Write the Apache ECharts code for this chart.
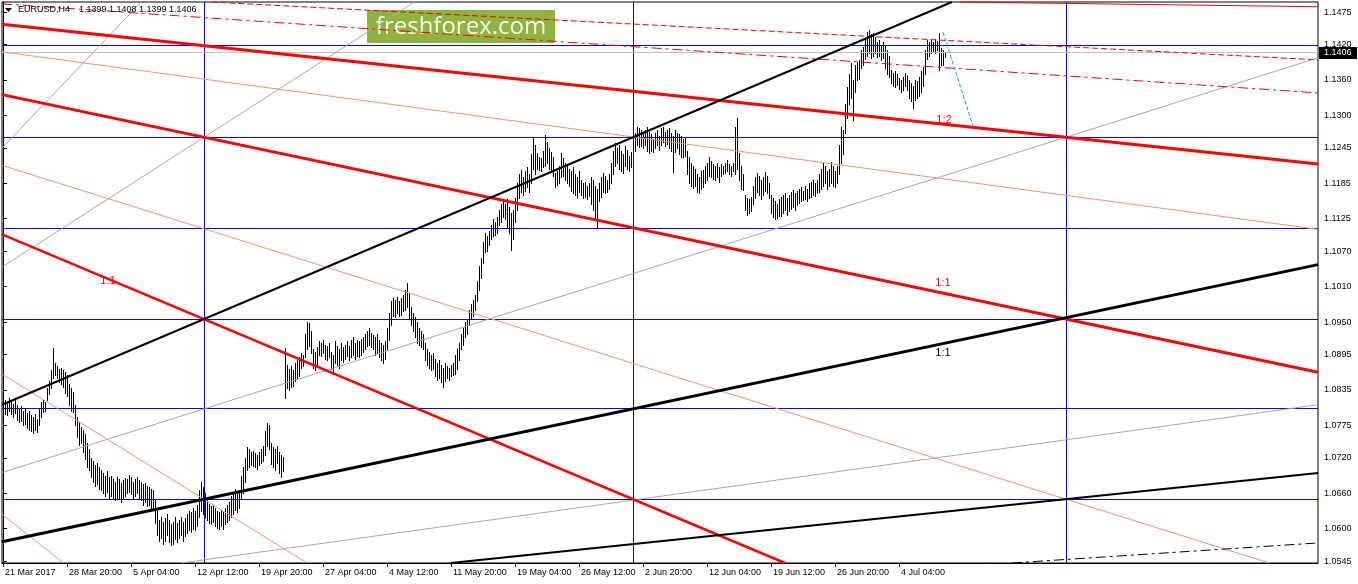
<!DOCTYPE html>
<html><head><meta charset="utf-8">
<script src="https://cdn.jsdelivr.net/npm/echarts@6/dist/echarts.min.js"></script>
<style>html,body{margin:0;padding:0;background:#fff;}#c{width:1358px;height:584px;}</style>
</head><body><div id="c"></div>
<script>
// ---------- DATA ----------
const symbolName = 'EURUSD,H4';
const lastOHLC = [1.1399, 1.1408, 1.1399, 1.1406];
const bidPrice = 1.1406;
const timeLabelBars = [0,32,64,96,128,160,192,224,256,288,320,352,384,416,448];
const timeLabels = ['21 Mar 2017','28 Mar 20:00','5 Apr 04:00','12 Apr 12:00','19 Apr 20:00','27 Apr 04:00','4 May 12:00','11 May 20:00','19 May 04:00','26 May 12:00','2 Jun 20:00','12 Jun 04:00','19 Jun 12:00','26 Jun 20:00','4 Jul 04:00'];
const priceLabels = [1.1475,1.1420,1.1360,1.1300,1.1245,1.1185,1.1125,1.1070,1.1010,1.0950,1.0895,1.0835,1.0775,1.0720,1.0660,1.0600,1.0545];

const barHighs = [
1.0820,1.0818,1.0816,1.0821,1.0815,1.0812,1.0818,
1.0810,1.0805,1.0808,1.0800,1.0803,1.0796,1.0799,1.0792,1.0790,1.0794,1.0786,
1.0805,1.0815,1.0818,1.0814,
1.0838,1.0850,1.0868,1.0906,1.0880,
1.0875,1.0870,1.0872,1.0868,1.0865,1.0860,
1.0845,1.0838,1.0832,
1.0810,1.0790,1.0780,
1.0772,1.0768,1.0760,1.0745,1.0735,
1.0720,1.0715,1.0708,1.0712,1.0705,
1.0700,1.0695,1.0690,1.0698,1.0688,
1.0690,1.0685,1.0680,1.0688,1.0684,1.0678,1.0682,1.0686,
1.0685,1.0691,1.0688,1.0680,1.0684,1.0688,1.0682,
1.0680,1.0675,1.0678,1.0672,1.0670,1.0668,1.0665,
1.0650,1.0630,1.0615,
1.0620,1.0612,1.0618,1.0625,1.0615,1.0608,1.0612,1.0620,
1.0610,1.0615,1.0620,1.0612,1.0618,1.0625,1.0630,
1.0628,1.0635,1.0630,1.0640,
1.0665,1.0680,1.0670,1.0660,
1.0648,1.0642,1.0638,1.0640,1.0635,1.0630,1.0628,
1.0632,1.0628,1.0635,1.0640,1.0645,
1.0655,1.0662,1.0668,1.0660,1.0665,
1.0690,1.0705,1.0720,
1.0738,1.0735,1.0730,1.0732,
1.0728,1.0725,1.0730,1.0735,1.0740,
1.0765,1.0779,1.0775,
1.0745,1.0738,1.0735,1.0740,1.0730,1.0725,
1.0722,1.0906,
1.0878,1.0870,1.0875,1.0868,1.0880,1.0885,1.0890,
1.0898,1.0895,
1.0930,1.0950,1.0948,1.0935,
1.0905,1.0900,1.0908,
1.0918,1.0915,1.0920,
1.0912,1.0910,1.0915,
1.0900,1.0895,1.0918,1.0910,1.0905,
1.0915,1.0908,1.0912,1.0918,1.0910,
1.0920,1.0924,1.0915,1.0920,1.0918,1.0922,1.0925,
1.0930,1.0935,1.0940,1.0932,1.0928,
1.0925,1.0930,1.0920,1.0915,1.0912,1.0918,
1.0940,1.0965,1.0985,
1.0990,1.0988,1.0992,1.0985,1.0990,1.0995,
1.1005,1.1017,1.1000,
1.0975,1.0965,1.0958,1.0950,
1.0940,1.0935,1.0930,
1.0915,1.0905,1.0900,1.0895,1.0898,
1.0888,1.0880,1.0885,1.0878,1.0872,1.0880,
1.0875,1.0872,1.0878,1.0880,
1.0895,1.0905,1.0915,
1.0930,1.0940,1.0950,1.0955,
1.0970,1.0980,1.0988,1.0995,
1.1020,1.1045,1.1058,
1.1085,1.1100,1.1095,
1.1105,1.1115,1.1125,1.1120,1.1128,
1.1140,1.1150,1.1156,1.1150,
1.1158,1.1145,1.1135,1.1140,
1.1160,1.1185,1.1200,1.1207,1.1195,
1.1205,1.1212,1.1200,
1.1235,1.1263,1.1250,
1.1236,1.1230,1.1228,1.1240,
1.1267,1.1255,1.1245,1.1238,1.1230,
1.1202,1.1205,
1.1215,1.1236,1.1228,1.1220,1.1215,1.1210,
1.1205,1.1212,1.1200,1.1195,1.1205,
1.1190,1.1185,1.1188,1.1180,1.1185,
1.1195,1.1190,1.1180,1.1175,
1.1185,1.1195,1.1202,
1.1198,1.1190,1.1200,
1.1220,1.1240,1.1253,1.1245,
1.1250,1.1240,1.1235,1.1248,
1.1241,1.1232,1.1238,
1.1255,1.1270,1.1280,1.1278,1.1275,1.1268,
1.1275,1.1280,1.1272,1.1268,1.1260,
1.1270,1.1275,1.1265,
1.1278,1.1280,1.1272,1.1276,
1.1278,1.1270,1.1265,1.1275,1.1270,
1.1268,1.1265,1.1260,1.1262,
1.1240,1.1229,1.1220,1.1215,1.1210,
1.1200,1.1195,1.1205,1.1207,
1.1215,1.1220,1.1229,1.1222,1.1218,
1.1215,1.1220,1.1212,
1.1218,1.1215,1.1220,1.1224,1.1218,1.1215,1.1220,
1.1280,1.1295,
1.1236,1.1215,1.1200,
1.1165,1.1160,1.1158,1.1162,
1.1180,1.1195,1.1202,1.1198,1.1190,
1.1195,1.1204,1.1198,1.1185,
1.1165,1.1160,1.1155,1.1150,1.1158,
1.1162,1.1165,1.1168,1.1160,1.1165,
1.1170,1.1173,1.1168,1.1172,
1.1175,1.1178,1.1172,1.1180,1.1176,
1.1185,1.1188,1.1190,1.1185,1.1190,
1.1200,1.1210,1.1219,1.1215,1.1205,
1.1210,1.1221,1.1215,1.1205,1.1215,
1.1250,1.1280,1.1275,
1.1320,1.1348,
1.1370,1.1389,1.1360,1.1385,
1.1390,1.1394,
1.1410,1.1416,
1.1430,1.1441,1.1445,1.1438,
1.1439,1.1432,1.1425,
1.1428,1.1420,1.1425,
1.1420,1.1410,1.1400,
1.1377,1.1372,1.1375,1.1370,
1.1363,1.1360,1.1365,
1.1372,1.1368,
1.1360,1.1355,1.1350,
1.1360,1.1358,
1.1365,1.1375,1.1382,
1.1410,1.1428,1.1425,
1.1428,1.1425,1.1430,1.1426,1.1439,
1.1414,1.1410,1.1408
];
const barLows = [
1.0798,1.0795,1.0792,1.0800,1.0794,1.0790,1.0796,
1.0785,1.0780,1.0782,1.0775,1.0778,1.0770,1.0768,1.0765,1.0762,1.0768,1.0764,
1.0775,1.0790,1.0798,1.0800,
1.0818,1.0828,1.0838,1.0855,1.0860,
1.0855,1.0848,1.0845,1.0840,1.0830,1.0825,
1.0810,1.0800,1.0798,
1.0775,1.0755,1.0742,
1.0745,1.0730,1.0718,1.0704,1.0700,
1.0688,1.0680,1.0672,1.0675,1.0668,
1.0665,1.0660,1.0655,1.0662,1.0652,
1.0655,1.0650,1.0648,1.0652,1.0650,1.0645,1.0650,1.0655,
1.0660,1.0662,1.0658,1.0652,1.0655,1.0660,1.0650,
1.0648,1.0640,1.0645,1.0638,1.0640,1.0635,1.0632,
1.0610,1.0590,1.0580,
1.0585,1.0575,1.0580,1.0590,1.0578,1.0572,1.0575,1.0582,
1.0578,1.0585,1.0590,1.0580,1.0588,1.0592,1.0598,
1.0595,1.0600,1.0598,1.0605,
1.0620,1.0630,1.0625,1.0620,
1.0615,1.0610,1.0608,1.0612,1.0605,1.0602,1.0600,
1.0605,1.0600,1.0608,1.0612,1.0615,
1.0620,1.0625,1.0632,1.0628,1.0635,
1.0650,1.0660,1.0680,
1.0700,1.0705,1.0708,1.0706,
1.0705,1.0702,1.0708,1.0712,1.0715,
1.0725,1.0740,1.0735,
1.0710,1.0705,1.0700,1.0712,1.0695,1.0688,
1.0698,1.0821,
1.0838,1.0835,1.0840,1.0842,1.0850,1.0855,1.0858,
1.0872,1.0875,
1.0890,1.0905,1.0910,1.0898,
1.0872,1.0868,1.0878,
1.0895,1.0892,1.0898,
1.0888,1.0885,1.0890,
1.0870,1.0865,1.0880,1.0878,1.0872,
1.0885,1.0882,1.0888,1.0892,1.0885,
1.0890,1.0895,1.0888,1.0893,1.0890,1.0895,1.0900,
1.0905,1.0910,1.0912,1.0908,1.0905,
1.0895,1.0898,1.0890,1.0885,1.0880,1.0888,
1.0905,1.0920,1.0945,
1.0960,1.0958,1.0965,1.0960,1.0962,1.0968,
1.0970,1.0975,1.0955,
1.0945,1.0935,1.0925,1.0915,
1.0912,1.0908,1.0905,
1.0885,1.0878,1.0872,1.0868,1.0870,
1.0858,1.0852,1.0855,1.0848,1.0840,1.0850,
1.0855,1.0852,1.0858,1.0860,
1.0862,1.0870,1.0885,
1.0905,1.0912,1.0925,1.0930,
1.0945,1.0955,1.0960,1.0970,
1.0985,1.1005,1.1025,
1.1050,1.1068,1.1070,
1.1080,1.1090,1.1095,1.1098,1.1100,
1.1115,1.1120,1.1128,1.1125,
1.1110,1.1100,1.1072,1.1090,
1.1120,1.1140,1.1160,1.1170,1.1165,
1.1172,1.1178,1.1170,
1.1185,1.1210,1.1200,
1.1210,1.1207,1.1205,1.1212,
1.1215,1.1220,1.1210,1.1205,1.1198,
1.1179,1.1182,
1.1185,1.1195,1.1198,1.1190,1.1185,1.1180,
1.1172,1.1168,1.1165,1.1162,1.1170,
1.1165,1.1160,1.1162,1.1158,1.1163,
1.1150,1.1140,1.1125,1.1111,
1.1155,1.1162,1.1170,
1.1168,1.1170,1.1175,
1.1185,1.1200,1.1215,1.1220,
1.1210,1.1205,1.1202,1.1215,
1.1210,1.1205,1.1212,
1.1225,1.1240,1.1250,1.1246,1.1248,1.1245,
1.1250,1.1240,1.1236,1.1240,1.1238,
1.1245,1.1250,1.1242,
1.1250,1.1255,1.1248,1.1252,
1.1245,1.1240,1.1204,1.1238,1.1245,
1.1235,1.1230,1.1229,1.1232,
1.1200,1.1185,1.1180,1.1177,1.1180,
1.1170,1.1168,1.1175,1.1178,
1.1185,1.1190,1.1198,1.1195,1.1192,
1.1190,1.1195,1.1188,
1.1198,1.1200,1.1202,1.1205,1.1200,1.1198,1.1205,
1.1200,1.1210,
1.1190,1.1175,1.1173,
1.1140,1.1131,1.1135,1.1138,
1.1150,1.1160,1.1170,1.1165,1.1158,
1.1165,1.1172,1.1168,1.1160,
1.1135,1.1128,1.1125,1.1127,1.1130,
1.1130,1.1135,1.1140,1.1132,1.1138,
1.1142,1.1145,1.1140,1.1148,
1.1152,1.1155,1.1156,1.1158,1.1155,
1.1160,1.1162,1.1165,1.1163,1.1168,
1.1170,1.1175,1.1180,1.1185,1.1175,
1.1180,1.1185,1.1180,1.1179,1.1185,
1.1200,1.1220,1.1235,
1.1270,1.1295,
1.1320,1.1330,1.1292,1.1340,
1.1360,1.1362,
1.1380,1.1385,
1.1395,1.1400,1.1405,1.1398,
1.1400,1.1405,1.1399,
1.1400,1.1394,1.1398,
1.1380,1.1370,1.1365,
1.1355,1.1350,1.1348,1.1352,
1.1345,1.1340,1.1343,
1.1350,1.1343,
1.1330,1.1325,1.1312,
1.1326,1.1330,
1.1332,1.1340,1.1350,
1.1370,1.1395,1.1400,
1.1406,1.1408,1.1405,1.1410,1.1377,
1.1385,1.1385,1.1399
];

// horizontal / vertical grid of the drawing (price levels, bar positions)
const gridLevels = [1.1418, 1.1263, 1.1108, 1.0955, 1.0803, 1.0650];
const gridBars = [100.5, 315, 531.5];

// trend line anchors: [barIndex, price]
const blackThickAnchors = [[100.5,1.0650],[315,1.0803]];
const blackUpperAnchors = [[100.5,1.0955],[315,1.1263]];
const blackLowerAnchors = [[315,1.0574],[531.5,1.0650]];
const redUpperAnchors = [[100.5,1.1418],[531.5,1.1263]];
const redMidAnchors = [[100.5,1.1263],[531.5,1.0955]];
const redLowerAnchors = [[100.5,1.0955],[315,1.0650]];
const grayMidAnchors = [[100.5,1.0803],[531.5,1.1263]];
const grayTopAnchors = [[100.5,1.1263],[315,1.1730]];
const graySteepAnchors = [[-1.5,1.1241],[70,1.1495]];
const grayLowAnchors = [[93.5,1.0544],[657.5,1.0810]];
const salmon1Anchors = [[-1.5,1.1408],[657.5,1.1107]];
const salmon2Anchors = [[100.5,1.1108],[531.5,1.0650]];
const salmon3Anchors = [[-1.5,1.0864],[100.5,1.0650]];
const salmon4Anchors = [[-1.5,1.0627],[29.5,1.0544]];
const redTopAnchors = [[478.5,1.1492],[657.5,1.1484]];
const redDash1Anchors = [[98.5,1.1493],[657.5,1.1394]];
const redDash2Anchors = [[-1.5,1.1489],[657.5,1.1338]];
const blackDashAnchors = [[513.5,1.0544],[657.5,1.0576]];
const projectionSegment = [[470,1.1441],[485,1.1282]];

const fanLabelTexts = ['1:2','1:1','1:1','1:1'];
const fanLabelPoints = [[470.5,1.1292],[470,1.1016],[470,1.0897],[52.5,1.1019]];

// ---------- CHART ----------
const xMin = -0.5, xMax = 657.5, yMin = 1.0542, yMax = 1.1492;
const FONT = 'Liberation Sans, Arial, sans-serif';
const RED = '#FF0000', BLUE = '#0000FF', SALMON = '#FA9070', GRAY = '#A8A8A8';

const styles = {
  grid: {color: BLUE, width: 1},
  bid: {color: '#C0C0C0', width: 1},
  blackThick: {color: '#000', width: 3},
  black2: {color: '#000', width: 2},
  red3: {color: RED, width: 3},
  red2: {color: RED, width: 2.5},
  red1: {color: RED, width: 1},
  gray: {color: GRAY, width: 1},
  salmon: {color: SALMON, width: 1},
  redDash1: {color: RED, width: 1, dash: [6,3]},
  redDash2: {color: RED, width: 1, dash: [10,4,3,4]},
  blackDash: {color: '#000', width: 1, dash: [10,4,3,4]},
  proj: {color: '#1E90FF', width: 1, dash: [4,2]}
};

function extend(a, b) {
  const s = (b[1]-a[1])/(b[0]-a[0]);
  return [[xMin, a[1] + s*(xMin-a[0])], [xMax, a[1] + s*(xMax-a[0])]];
}
function clipSeg(p, q) {
  let t0 = 0, t1 = 1; const dx = q[0]-p[0], dy = q[1]-p[1];
  const checks = [[-dx, p[0]-xMin],[dx, xMax-p[0]],[-dy, p[1]-yMin],[dy, yMax-p[1]]];
  for (const [pp, qq] of checks) {
    if (pp === 0) { if (qq < 0) return null; }
    else {
      const r = qq/pp;
      if (pp < 0) { if (r > t1) return null; if (r > t0) t0 = r; }
      else { if (r < t0) return null; if (r < t1) t1 = r; }
    }
  }
  return [[p[0]+t0*dx, p[1]+t0*dy], [p[0]+t1*dx, p[1]+t1*dy]];
}

const segs = [];
function add(seg, style) { const c = clipSeg(seg[0], seg[1]); if (c) segs.push({seg: c, style}); }
gridLevels.forEach(l => add([[xMin,l],[xMax,l]], 'grid'));
gridBars.forEach(b => add([[b,yMin],[b,yMax]], 'grid'));
add([[xMin,bidPrice],[xMax,bidPrice]], 'bid');
add(extend(...salmon1Anchors), 'salmon');
add(extend(...salmon2Anchors), 'salmon');
add(extend(...salmon3Anchors), 'salmon');
add(extend(...salmon4Anchors), 'salmon');
add(extend(...grayMidAnchors), 'gray');
add(extend(...grayTopAnchors), 'gray');
add(extend(...graySteepAnchors), 'gray');
add(extend(...grayLowAnchors), 'gray');
add(extend(...redDash1Anchors), 'redDash1');
add(extend(...redDash2Anchors), 'redDash2');
add(extend(...blackDashAnchors), 'blackDash');
add(extend(...redTopAnchors), 'red1');
add(extend(...redUpperAnchors), 'red3');
add(extend(...redMidAnchors), 'red3');
add(extend(...redLowerAnchors), 'red2');
add(extend(...blackThickAnchors), 'blackThick');
add(extend(...blackUpperAnchors), 'black2');
add(extend(...blackLowerAnchors), 'black2');
add(projectionSegment, 'proj');

const chart = echarts.init(document.getElementById('c'), null, {renderer: 'canvas'});

const barData = barHighs.map((h, i) => [i, h, barLows[i]]);

chart.setOption({
  animation: false,
  backgroundColor: '#fff',
  textStyle: {fontFamily: FONT},
  grid: {left: 2, right: 40, top: 2, bottom: 21, show: true, borderColor: '#000', borderWidth: 1, backgroundColor: '#fff'},
  xAxis: {
    type: 'value', min: xMin, max: xMax,
    splitLine: {show: false},
    axisLine: {show: true, lineStyle: {color: '#000', width: 1}},
    axisTick: {show: true, customValues: timeLabelBars, length: 4, inside: false, lineStyle: {color: '#000'}},
    axisLabel: {
      customValues: timeLabelBars, align: 'left', margin: 5, fontSize: 9, color: '#000', fontFamily: FONT,
      padding: [0,0,0,2],
      formatter: v => timeLabels[timeLabelBars.indexOf(Math.round(v))] || ''
    }
  },
  yAxis: {
    type: 'value', position: 'right', min: yMin, max: yMax, scale: true,
    splitLine: {show: false},
    axisLine: {show: true, lineStyle: {color: '#000', width: 1}},
    axisTick: {show: true, customValues: priceLabels, length: 4, inside: false, lineStyle: {color: '#000'}},
    axisLabel: {customValues: priceLabels, margin: 6, fontSize: 9, color: '#000', fontFamily: FONT, formatter: v => v.toFixed(4)}
  },
  graphic: [
    {type: 'polygon', shape: {points: [[5,8],[12,8],[8.5,12]]}, style: {fill: '#000'}, z: 100},
    {type: 'text', left: 18, top: 5, style: {text: symbolName, fontSize: 9, fontFamily: FONT, fill: '#000'}, z: 100},
    {type: 'text', left: 79, top: 5, style: {text: lastOHLC.map(v => v.toFixed(4)).join(' '), fontSize: 9, fontFamily: FONT, fill: '#000'}, z: 100},
    {type: 'group', left: 367, top: 10, z: 100, children: [
      {type: 'rect', shape: {x: 0, y: 0, width: 188, height: 33}, style: {fill: '#8CB43F'}},
      {type: 'text', x: 94, y: 17, style: {text: 'freshforex.com', fontSize: 24, fontFamily: 'Open Sans, sans-serif', fill: '#F6F9EE', align: 'center', verticalAlign: 'middle'}}
    ]}
  ],
  series: [
    {
      type: 'custom', name: 'bars', z: 2, silent: true,
      encode: {x: 0, y: [1, 2]},
      data: barData,
      renderItem: function (params, api) {
        const top = api.coord([api.value(0), api.value(1)]);
        const bot = api.coord([api.value(0), api.value(2)]);
        const x = Math.floor(top[0]) + 0.5;
        return {type: 'line', shape: {x1: x, y1: Math.round(top[1]), x2: x, y2: Math.round(bot[1]) + 1},
          style: {stroke: '#000', lineWidth: 1}};
      }
    },
    {
      type: 'custom', name: 'lines', z: 3, silent: true,
      encode: {x: 0, y: 1},
      data: segs.map(s => [s.seg[0][0], s.seg[0][1]]),
      renderItem: function (params, api) {
        const s = segs[params.dataIndex];
        const st = styles[s.style];
        let a = api.coord(s.seg[0]), b = api.coord(s.seg[1]);
        if (Math.abs(a[1]-b[1]) < 0.01) { const y = Math.floor(a[1]) + 0.5; a = [a[0], y]; b = [b[0], y]; }
        if (Math.abs(a[0]-b[0]) < 0.01) { const x = Math.floor(a[0]) + 0.5; a = [x, a[1]]; b = [x, b[1]]; }
        return {type: 'line', shape: {x1: a[0], y1: a[1], x2: b[0], y2: b[1]},
          style: {stroke: st.color, lineWidth: st.width, lineDash: st.dash || null}};
      }
    },
    {
      type: 'custom', name: 'fanLabels', z: 4, silent: true,
      encode: {x: 0, y: 1},
      data: fanLabelPoints,
      renderItem: function (params, api) {
        const p = api.coord([api.value(0), api.value(1)]);
        const txt = fanLabelTexts[params.dataIndex];
        const col = params.dataIndex === 2 ? '#000' : RED;
        return {type: 'text', x: p[0], y: p[1], style: {text: txt, fontSize: 11, fontFamily: FONT, fill: col, align: 'center', verticalAlign: 'middle'}};
      }
    },
    {
      type: 'custom', name: 'bidBox', z: 10, silent: true,
      encode: {x: 0, y: 1},
      data: [[xMax, bidPrice]],
      renderItem: function (params, api) {
        const p = api.coord([api.value(0), api.value(1)]);
        const y = Math.round(p[1]);
        return {type: 'group', children: [
          {type: 'rect', shape: {x: p[0] + 1, y: y - 6, width: 38, height: 12}, style: {fill: '#000'}},
          {type: 'text', x: p[0] + 6, y: y, style: {text: bidPrice.toFixed(4), fontSize: 9, fontFamily: FONT, fill: '#fff', verticalAlign: 'middle'}}
        ]};
      }
    }
  ]
});
</script>
</body></html>
